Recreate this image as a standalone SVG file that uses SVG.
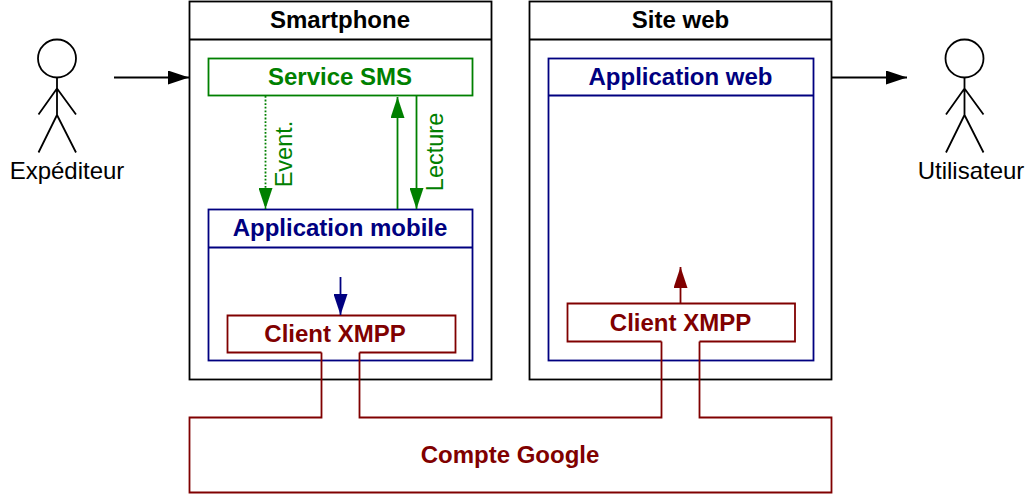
<svg xmlns="http://www.w3.org/2000/svg" width="1033" height="494" viewBox="0 0 1033 494">
<style>
text{font-family:"Liberation Sans",Arial,sans-serif;text-anchor:middle}
.t{font-size:24px;font-weight:bold}
.l{font-size:24px}
.k{stroke:#000;fill:none;stroke-width:1.8}
.g{stroke:#008000;fill:none;stroke-width:1.8}
.b{stroke:#000080;fill:none;stroke-width:1.8}
.r{stroke:#800000;fill:none;stroke-width:1.8}
.actor{fill:none;stroke:#000;stroke-width:1.8}
</style>
<defs>
<marker id="ak" markerUnits="userSpaceOnUse" markerWidth="21" markerHeight="14" refX="21" refY="7" orient="auto"><path d="M0 0L21 7L0 14Z" fill="#000"/></marker>
<marker id="ag" markerUnits="userSpaceOnUse" markerWidth="21" markerHeight="14" refX="21" refY="7" orient="auto"><path d="M0 0L21 7L0 14Z" fill="#008000"/></marker>
<marker id="ab" markerUnits="userSpaceOnUse" markerWidth="21" markerHeight="14" refX="21" refY="7" orient="auto"><path d="M0 0L21 7L0 14Z" fill="#000080"/></marker>
<marker id="ar" markerUnits="userSpaceOnUse" markerWidth="21" markerHeight="14" refX="21" refY="7" orient="auto"><path d="M0 0L21 7L0 14Z" fill="#800000"/></marker>
</defs>
<g id="expediteur">
<circle class="actor" cx="57" cy="58.500" r="19"/>
<path class="actor" d="M57 77.500V115M57 88.500L38.500 114.500M57 88.500L76 114.500M57 115L38.500 152.500M57 115L76 152.500"/>
<text class="l" x="67" y="179">Expéditeur</text>
</g>
<g id="utilisateur">
<circle class="actor" cx="964.500" cy="58.500" r="19"/>
<path class="actor" d="M964.500 77.500V115M964.500 88.500L946 114.500M964.500 88.500L983.500 114.500M964.500 115L946 152.500M964.500 115L983.500 152.500"/>
<text class="l" x="971" y="179">Utilisateur</text>
</g>
<g id="smartphone">
<rect class="k" x="189.500" y="1.500" width="302" height="378"/>
<path class="k" d="M189.500 39.500H491.500"/>
<text class="t" x="340" y="28" fill="#000">Smartphone</text>
</g>
<g id="site-web">
<rect class="k" x="529.500" y="1.500" width="302" height="378"/>
<path class="k" d="M529.500 39.500H831.500"/>
<text class="t" x="680.500" y="28" fill="#000">Site web</text>
</g>
<g id="service-sms">
<rect class="g" x="208.500" y="58.500" width="264" height="37"/>
<text class="t" x="340" y="85" fill="#008000">Service SMS</text>
</g>
<g id="application-mobile">
<rect class="b" x="208.500" y="209.500" width="264" height="151"/>
<path class="b" d="M208.500 247.500H472.500"/>
<text class="t" x="340" y="236" fill="#000080">Application mobile</text>
</g>
<g id="client-xmpp-mobile">
<path class="r" d="M321.500 352.500H227.500V315.500H455.500V352.500H359.500"/>
<text class="t" x="335" y="342" fill="#800000">Client XMPP</text>
</g>
<g id="application-web">
<rect class="b" x="548.500" y="58.500" width="265" height="302"/>
<path class="b" d="M548.500 95.500H813.500"/>
<text class="t" x="680.500" y="85" fill="#000080">Application web</text>
</g>
<g id="client-xmpp-web">
<path class="r" d="M661.500 341.500H567.500V303.500H795V341.500H699.500"/>
<text class="t" x="680.500" y="331" fill="#800000">Client XMPP</text>
</g>
<g id="compte-google">
<path class="r" d="M321.500 352.500V417.500H189.500V492.500H831.500V417.500H699.500V341.500M661.500 341.500V417.500H359.500V352.500"/>
<text class="t" x="510" y="463" fill="#800000">Compte Google</text>
</g>
<g id="connectors">
<path class="k" d="M114 77.500H189" marker-end="url(#ak)"/>
<path class="k" d="M832 77.500H907" marker-end="url(#ak)"/>
<path class="g" d="M265.500 96V209" stroke-dasharray="1.800 1.800" marker-end="url(#ag)"/>
<path class="g" d="M397.500 209V97" marker-end="url(#ag)"/>
<path class="g" d="M416.500 96V209" marker-end="url(#ag)"/>
<path class="b" d="M340.500 277V315" marker-end="url(#ab)"/>
<path class="r" d="M680.500 303V267" marker-end="url(#ar)"/>
</g>
<text x="0" y="0" transform="translate(292 154) rotate(-90)" font-size="23.500" fill="#008000">Event.</text>
<text x="0" y="0" transform="translate(443 152) rotate(-90)" font-size="23.500" fill="#008000">Lecture</text>
</svg>
